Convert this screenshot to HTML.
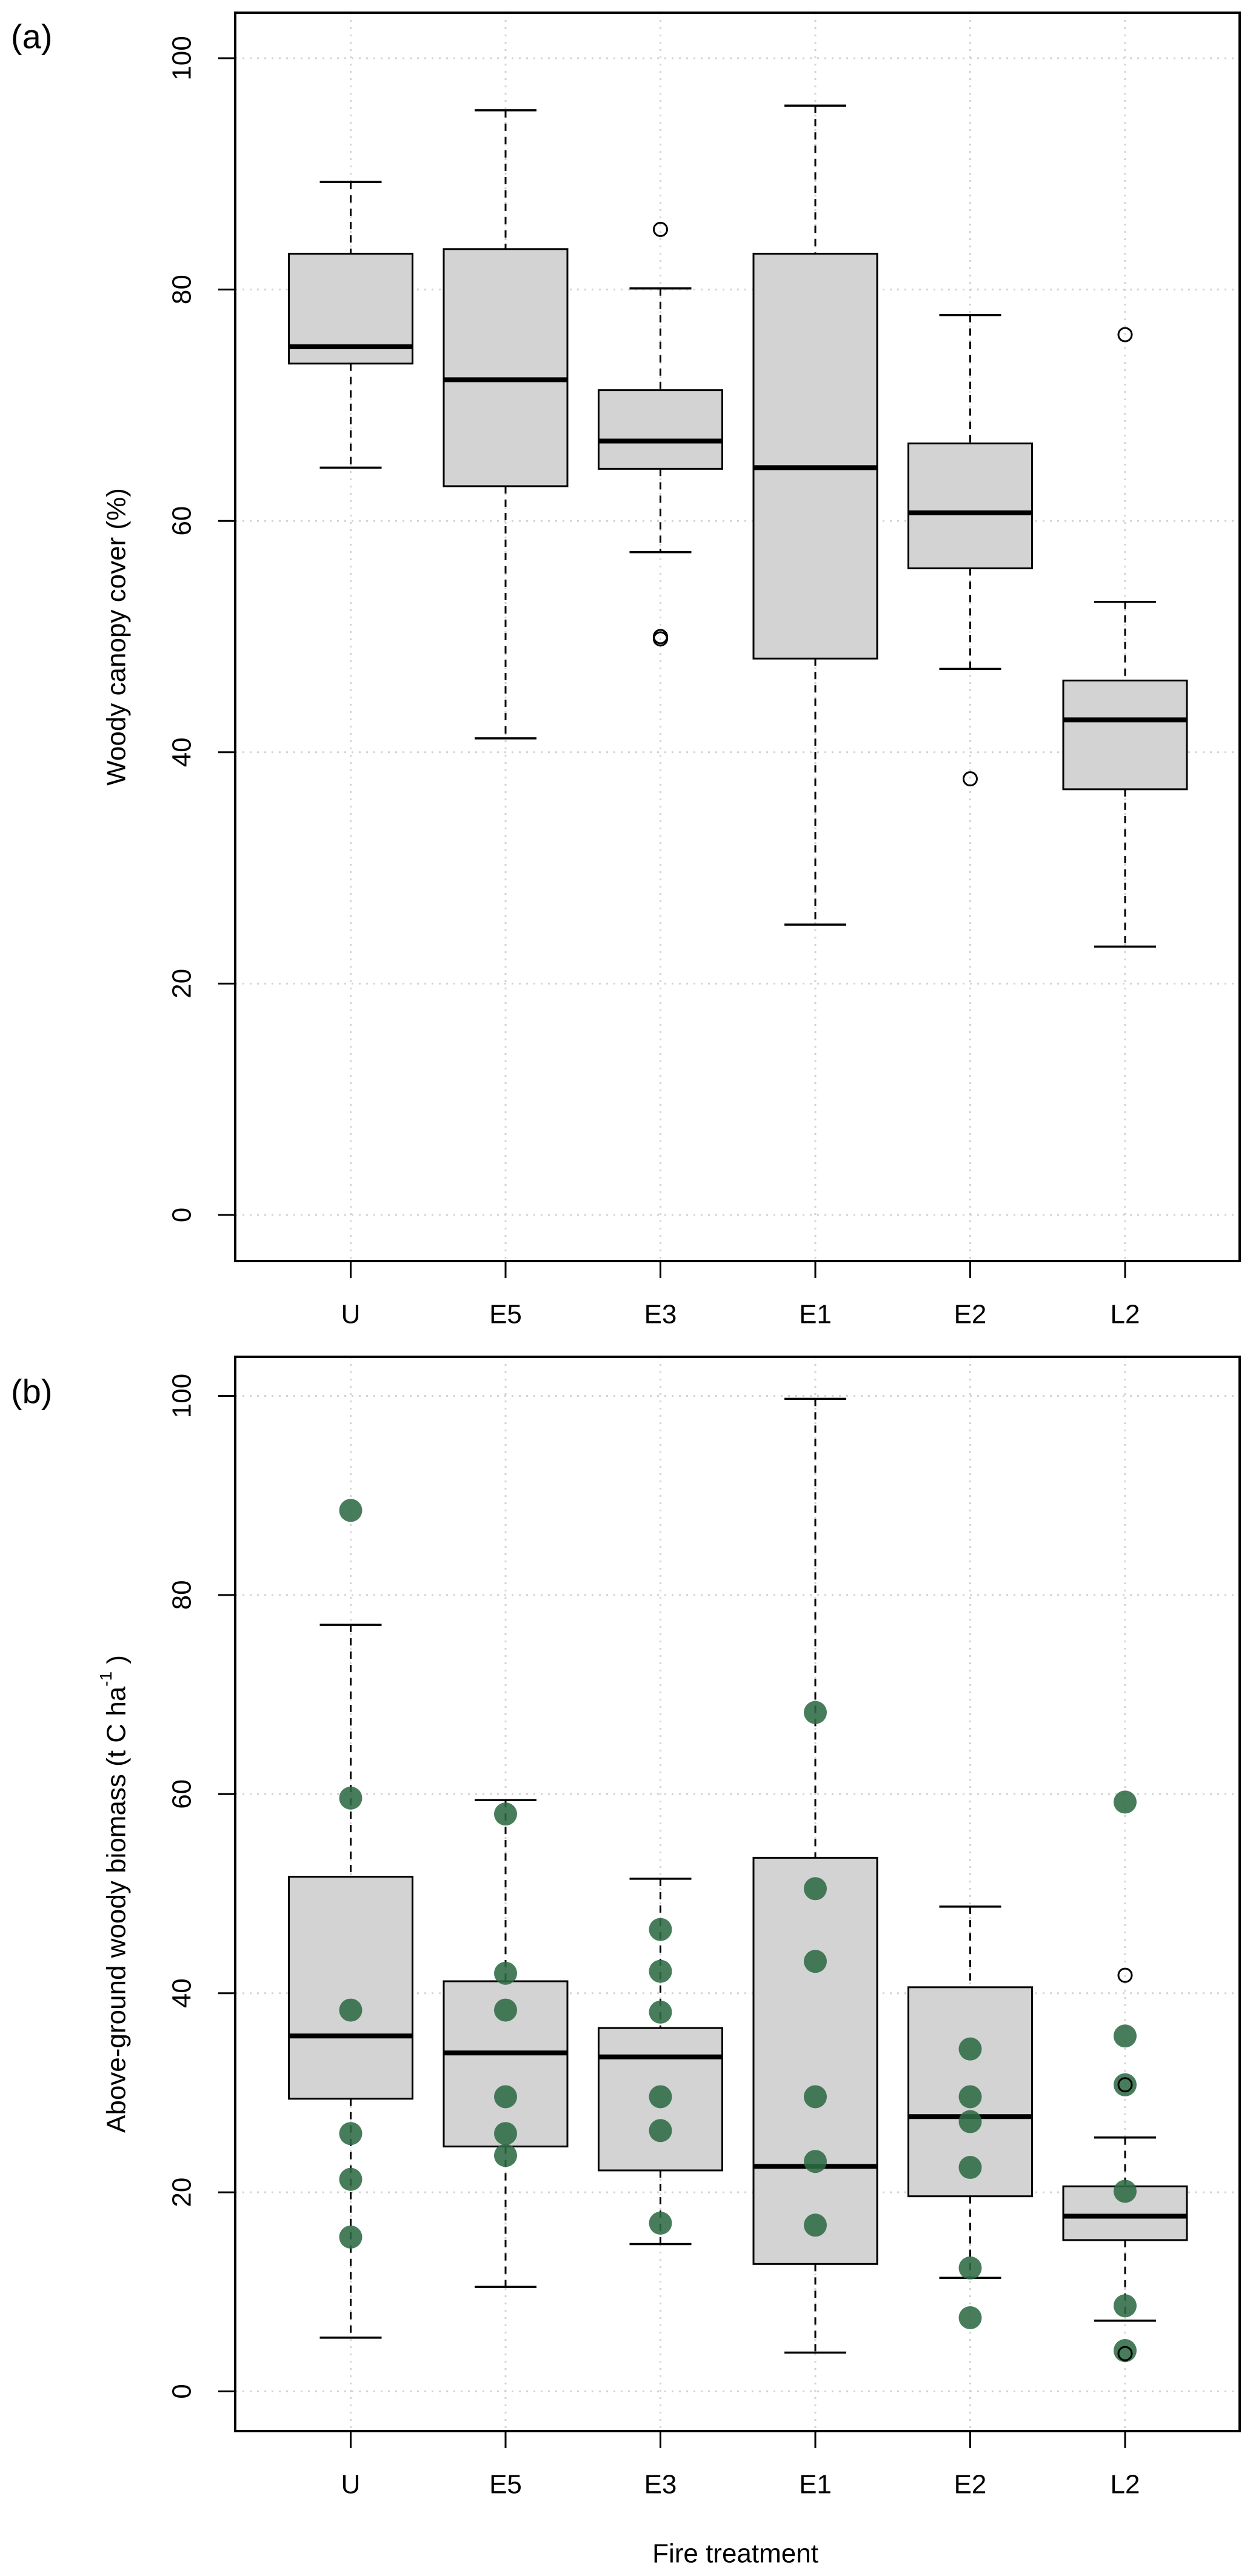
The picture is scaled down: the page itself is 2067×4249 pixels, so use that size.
<!DOCTYPE html>
<html><head><meta charset="utf-8"><style>
html,body{margin:0;padding:0;background:#fff;}
svg{display:block;font-family:"Liberation Sans",Arial,sans-serif;}
</style></head><body>
<svg id="fig" width="2067" height="4249" viewBox="0 0 2067 4249"></svg>
<script>
const categories = ["U","E5","E3","E1","E2","L2"];
const yTicks = [0,20,40,60,80,100];
// Panel (a): woody canopy cover
const aLow   = [64.6, 41.2, 57.3, 25.1, 47.2, 23.2];
const aQ1    = [73.6, 63.0, 64.5, 48.1, 55.9, 36.8];
const aMed   = [75.05,72.2, 66.9, 64.6, 60.7, 42.8];
const aQ3    = [83.1, 83.5, 71.3, 83.1, 66.7, 46.2];
const aHigh  = [89.3, 95.5, 80.1, 95.9, 77.8, 53.0];
const aOutCat = [2, 2, 2, 4, 5];
const aOutVal = [85.2, 50.0, 49.8, 37.7, 76.1];
// Panel (b): above-ground woody biomass
const bLow   = [5.4, 10.5, 14.8, 3.9, 11.4, 7.1];
const bQ1    = [29.4, 24.6, 22.2, 12.8, 19.6, 15.2];
const bMed   = [35.7, 34.0, 33.6, 22.6, 27.6, 17.6];
const bQ3    = [51.7, 41.2, 36.5, 53.6, 40.6, 20.6];
const bHigh  = [77.0, 59.4, 51.5, 99.7, 48.7, 25.5];
const bOutCat = [5, 5, 5];
const bOutVal = [41.8, 30.8, 3.8];
const ptCat = [0,0,0,0,0,0, 1,1,1,1,1,1, 2,2,2,2,2,2, 3,3,3,3,3,3, 4,4,4,4,4,4, 5,5,5,5,5,5];
const ptVal = [88.5,59.6,38.3,25.9,21.3,15.5, 58.0,42.0,38.3,29.6,25.9,23.7, 46.4,42.2,38.1,29.6,26.2,16.9,
               68.2,50.5,43.2,29.6,23.1,16.7, 34.4,29.6,27.1,22.5,12.4,7.4, 59.2,35.7,30.8,20.1,8.6,4.1];

const NS="http://www.w3.org/2000/svg";
const svg=document.getElementById('fig');
function el(tag,attrs,parent){const e=document.createElementNS(NS,tag);for(const k in attrs)e.setAttribute(k,attrs[k]);(parent||svg).appendChild(e);return e;}
const xL=388,xR=2045;
function xPos(i){return 578.5+i*255.5;}

function panel(cfg){
  const g=el('g',{});
  
  
  const y=v=>cfg.y0-v*cfg.k;
  const grid=el('g',{},g);
  
  
  yTicks.forEach(t=>{el('line',{x1:xL,x2:xR,y1:y(t),y2:y(t),stroke:'#d3d3d3','stroke-width':3,'stroke-dasharray':'3 9'},grid);});
  categories.forEach((c,i)=>{el('line',{x1:xPos(i),x2:xPos(i),y1:cfg.top,y2:cfg.bot,stroke:'#d3d3d3','stroke-width':3,'stroke-dasharray':'3 9'},grid);});
  categories.forEach((c,i)=>{
    const bx=el('g',{},g);
    
    
    const x=xPos(i);
    el('line',{x1:x,x2:x,y1:y(cfg.high[i]),y2:y(cfg.q3[i]),stroke:'#000','stroke-width':3,'stroke-dasharray':'12 10'},bx);
    el('line',{x1:x,x2:x,y1:y(cfg.q1[i]),y2:y(cfg.low[i]),stroke:'#000','stroke-width':3,'stroke-dasharray':'12 10'},bx);
    el('line',{x1:x-51,x2:x+51,y1:y(cfg.high[i]),y2:y(cfg.high[i]),stroke:'#000','stroke-width':3.5},bx);
    el('line',{x1:x-51,x2:x+51,y1:y(cfg.low[i]),y2:y(cfg.low[i]),stroke:'#000','stroke-width':3.5},bx);
    el('rect',{x:x-102,y:y(cfg.q3[i]),width:204,height:y(cfg.q1[i])-y(cfg.q3[i]),fill:'#d3d3d3',stroke:'#000','stroke-width':3},bx);
    el('line',{x1:x-102,x2:x+102,y1:y(cfg.med[i]),y2:y(cfg.med[i]),stroke:'#000','stroke-width':8},bx);
  });
  if(cfg.ptCat){
    cfg.ptCat.forEach((ci,j)=>{
      const p=el('circle',{cx:xPos(ci),cy:y(cfg.ptVal[j]),r:19,fill:'#2f6b45','fill-opacity':0.88},g);
      
      
    });
  }
  cfg.outCat.forEach((ci,j)=>{
    const o=el('circle',{cx:xPos(ci),cy:y(cfg.outVal[j]),r:11,fill:'none',stroke:'#000','stroke-width':3},g);
    
    
  });
  const fr=el('rect',{x:xL,y:cfg.top,width:xR-xL,height:cfg.bot-cfg.top,fill:'none',stroke:'#000','stroke-width':4},g);
  
  
  yTicks.forEach(t=>{
    el('line',{x1:xL-28,x2:xL,y1:y(t),y2:y(t),stroke:'#000','stroke-width':3},g);
    const tx=el('text',{x:300,y:y(t),'font-size':44,'text-anchor':'middle','dominant-baseline':'central',transform:`rotate(-90 300 ${y(t)})`},g);
    tx.textContent=t;
    
    
  });
  categories.forEach((c,i)=>{
    el('line',{x1:xPos(i),x2:xPos(i),y1:cfg.bot,y2:cfg.bot+28,stroke:'#000','stroke-width':3},g);
    const tx=el('text',{x:xPos(i),y:cfg.bot+88,'font-size':44,'text-anchor':'middle','dominant-baseline':'central'},g);
    tx.textContent=c;
    
    
  });
  const mid=(cfg.top+cfg.bot)/2;
  const tt=el('text',{x:192,y:mid,'font-size':44,'text-anchor':'middle','dominant-baseline':'central',transform:`rotate(-90 192 ${mid})`},g);
  
  
  if(cfg.sup){
    tt.appendChild(document.createTextNode('Above-ground woody biomass (t C ha'));
    const s=el('tspan',{'font-size':28,dy:-18},tt);s.textContent='-1';
    const s2=el('tspan',{dy:18},tt);s2.textContent=' )';
  } else tt.textContent=cfg.title;
  const pl=el('text',{x:18,y:cfg.labY,'font-size':56,'dominant-baseline':'central'},g);
  pl.textContent=cfg.label;
  
  
}

panel({name:'panel-a',y0:2004,k:19.08,top:21,bot:2080,low:aLow,q1:aQ1,med:aMed,q3:aQ3,high:aHigh,outCat:aOutCat,outVal:aOutVal,title:'Woody canopy cover (%)',label:'(a)',labY:60});
panel({name:'panel-b',y0:3944.5,k:16.42,top:2238,bot:4010,low:bLow,q1:bQ1,med:bMed,q3:bQ3,high:bHigh,outCat:bOutCat,outVal:bOutVal,ptCat:ptCat,ptVal:ptVal,sup:true,label:'(b)',labY:2295});

const xt=el('text',{x:1213,y:4212,'font-size':44,'text-anchor':'middle','dominant-baseline':'central'});
xt.textContent='Fire treatment';


</script>
</body></html>
